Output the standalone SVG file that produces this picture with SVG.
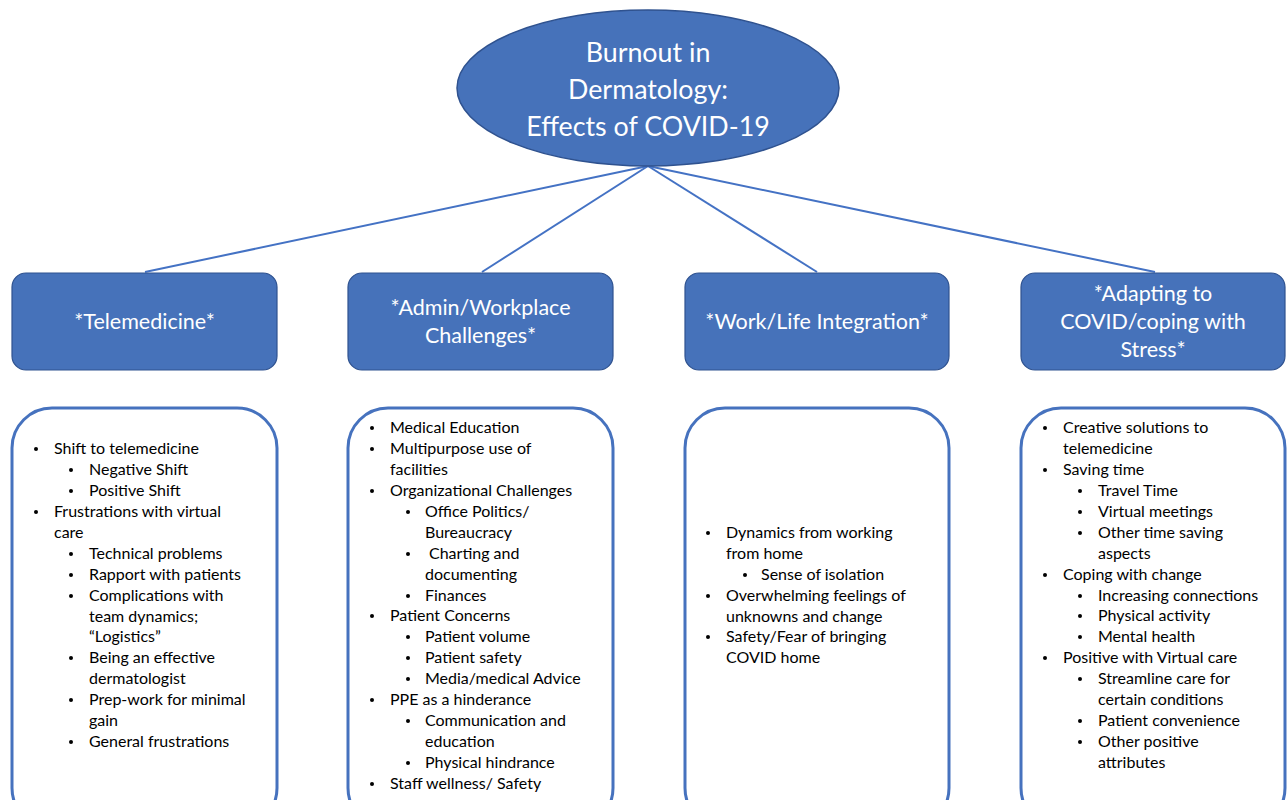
<svg xmlns="http://www.w3.org/2000/svg" width="1287" height="800" viewBox="0 0 1287 800">
  <defs>
    <style>
      .hub { fill: #4672BA; stroke: #2F528F; stroke-width: 1.5; }
      .head { fill: #4672BA; stroke: #2F528F; stroke-width: 1.2; }
      .list { fill: #FFFFFF; stroke: #4672BE; stroke-width: 3; }
      .wire { stroke: #4472C4; stroke-width: 2; fill: none; }
      .hubtxt { font-family: Lato, "Liberation Sans", sans-serif; font-size: 26.8px; fill: #FFFFFF; text-anchor: middle; }
      .headtxt { font-family: Lato, "Liberation Sans", sans-serif; font-size: 21.5px; fill: #FFFFFF; text-anchor: middle; }
      .item { font-family: Lato, "Liberation Sans", sans-serif; font-size: 16px; fill: #000000; }
      .dot { fill: #000000; }
    </style>
  </defs>

  <rect x="0" y="0" width="1287" height="800" fill="#FFFFFF"/>

  <!-- connectors from the hub to each theme -->
  <g id="connectors">
    <line class="wire" x1="648" y1="166" x2="145" y2="272"/>
    <line class="wire" x1="648" y1="166" x2="482" y2="272"/>
    <line class="wire" x1="648" y1="166" x2="817" y2="272"/>
    <line class="wire" x1="648" y1="166" x2="1155" y2="272"/>
  </g>

  <!-- central topic -->
  <g id="hub">
    <ellipse class="hub" cx="648" cy="88" rx="191" ry="78"/>
    <text class="hubtxt" x="648" y="62">Burnout in</text>
    <text class="hubtxt" x="648" y="99">Dermatology:</text>
    <text class="hubtxt" x="648" y="136">Effects of COVID-19</text>
  </g>

  <!-- theme headers -->
  <g id="head-telemedicine">
    <rect class="head" x="12" y="273" width="265" height="97" rx="14"/>
    <text class="headtxt" x="144.5" y="329">*Telemedicine*</text>
  </g>
  <g id="head-admin">
    <rect class="head" x="348" y="273" width="265" height="97" rx="14"/>
    <text class="headtxt" x="480.5" y="315">*Admin/Workplace</text>
    <text class="headtxt" x="480.5" y="343">Challenges*</text>
  </g>
  <g id="head-worklife">
    <rect class="head" x="685" y="273" width="264" height="97" rx="14"/>
    <text class="headtxt" x="817" y="329">*Work/Life Integration*</text>
  </g>
  <g id="head-adapting">
    <rect class="head" x="1021" y="273" width="264" height="97" rx="14"/>
    <text class="headtxt" x="1153" y="301">*Adapting to</text>
    <text class="headtxt" x="1153" y="329">COVID/coping with</text>
    <text class="headtxt" x="1153" y="357">Stress*</text>
  </g>

  <!-- detail lists -->
  <g id="list-telemedicine">
    <rect class="list" x="12" y="408" width="265" height="420" rx="40"/>
    <circle class="dot" cx="36" cy="449" r="2"/><text class="item" x="54" y="454">Shift to telemedicine</text>
    <circle class="dot" cx="71" cy="470" r="2"/><text class="item" x="89" y="475">Negative Shift</text>
    <circle class="dot" cx="71" cy="491" r="2"/><text class="item" x="89" y="496">Positive Shift</text>
    <circle class="dot" cx="36" cy="512" r="2"/><text class="item" x="54" y="517">Frustrations with virtual</text>
    <text class="item" x="54" y="538">care</text>
    <circle class="dot" cx="71" cy="554" r="2"/><text class="item" x="89" y="559">Technical problems</text>
    <circle class="dot" cx="71" cy="575" r="2"/><text class="item" x="89" y="580">Rapport with patients</text>
    <circle class="dot" cx="71" cy="596" r="2"/><text class="item" x="89" y="601">Complications with</text>
    <text class="item" x="89" y="622">team dynamics;</text>
    <text class="item" x="89" y="642">“Logistics”</text>
    <circle class="dot" cx="71" cy="658" r="2"/><text class="item" x="89" y="663">Being an effective</text>
    <text class="item" x="89" y="684">dermatologist</text>
    <circle class="dot" cx="71" cy="700" r="2"/><text class="item" x="89" y="705">Prep-work for minimal</text>
    <text class="item" x="89" y="726">gain</text>
    <circle class="dot" cx="71" cy="742" r="2"/><text class="item" x="89" y="747">General frustrations</text>
  </g>

  <g id="list-admin">
    <rect class="list" x="348" y="408" width="265" height="420" rx="40"/>
    <circle class="dot" cx="372" cy="428" r="2"/><text class="item" x="390" y="433">Medical Education</text>
    <circle class="dot" cx="372" cy="449" r="2"/><text class="item" x="390" y="454">Multipurpose use of</text>
    <text class="item" x="390" y="475">facilities</text>
    <circle class="dot" cx="372" cy="491" r="2"/><text class="item" x="390" y="496">Organizational Challenges</text>
    <circle class="dot" cx="408" cy="512" r="2"/><text class="item" x="425" y="517">Office Politics/</text>
    <text class="item" x="425" y="538">Bureaucracy</text>
    <circle class="dot" cx="408" cy="554" r="2"/><text class="item" x="429" y="559">Charting and</text>
    <text class="item" x="425" y="580">documenting</text>
    <circle class="dot" cx="408" cy="596" r="2"/><text class="item" x="425" y="601">Finances</text>
    <circle class="dot" cx="372" cy="616" r="2"/><text class="item" x="390" y="621">Patient Concerns</text>
    <circle class="dot" cx="408" cy="637" r="2"/><text class="item" x="425" y="642">Patient volume</text>
    <circle class="dot" cx="408" cy="658" r="2"/><text class="item" x="425" y="663">Patient safety</text>
    <circle class="dot" cx="408" cy="679" r="2"/><text class="item" x="425" y="684">Media/medical Advice</text>
    <circle class="dot" cx="372" cy="700" r="2"/><text class="item" x="390" y="705">PPE as a hinderance</text>
    <circle class="dot" cx="408" cy="721" r="2"/><text class="item" x="425" y="726">Communication and</text>
    <text class="item" x="425" y="747">education</text>
    <circle class="dot" cx="408" cy="763" r="2"/><text class="item" x="425" y="768">Physical hindrance</text>
    <circle class="dot" cx="372" cy="784" r="2"/><text class="item" x="390" y="789">Staff wellness/ Safety</text>
  </g>

  <g id="list-worklife">
    <rect class="list" x="685" y="408" width="264" height="420" rx="40"/>
    <circle class="dot" cx="708" cy="533" r="2"/><text class="item" x="726" y="538">Dynamics from working</text>
    <text class="item" x="726" y="559">from home</text>
    <circle class="dot" cx="745" cy="575" r="2"/><text class="item" x="761" y="580">Sense of isolation</text>
    <circle class="dot" cx="708" cy="596" r="2"/><text class="item" x="726" y="601">Overwhelming feelings of</text>
    <text class="item" x="726" y="622">unknowns and change</text>
    <circle class="dot" cx="708" cy="637" r="2"/><text class="item" x="726" y="642">Safety/Fear of bringing</text>
    <text class="item" x="726" y="663">COVID home</text>
  </g>

  <g id="list-adapting">
    <rect class="list" x="1021" y="408" width="264" height="420" rx="40"/>
    <circle class="dot" cx="1045" cy="428" r="2"/><text class="item" x="1063" y="433">Creative solutions to</text>
    <text class="item" x="1063" y="454">telemedicine</text>
    <circle class="dot" cx="1045" cy="470" r="2"/><text class="item" x="1063" y="475">Saving time</text>
    <circle class="dot" cx="1080" cy="491" r="2"/><text class="item" x="1098" y="496">Travel Time</text>
    <circle class="dot" cx="1080" cy="512" r="2"/><text class="item" x="1098" y="517">Virtual meetings</text>
    <circle class="dot" cx="1080" cy="533" r="2"/><text class="item" x="1098" y="538">Other time saving</text>
    <text class="item" x="1098" y="559">aspects</text>
    <circle class="dot" cx="1045" cy="575" r="2"/><text class="item" x="1063" y="580">Coping with change</text>
    <circle class="dot" cx="1080" cy="596" r="2"/><text class="item" x="1098" y="601">Increasing connections</text>
    <circle class="dot" cx="1080" cy="616" r="2"/><text class="item" x="1098" y="621">Physical activity</text>
    <circle class="dot" cx="1080" cy="637" r="2"/><text class="item" x="1098" y="642">Mental health</text>
    <circle class="dot" cx="1045" cy="658" r="2"/><text class="item" x="1063" y="663">Positive with Virtual care</text>
    <circle class="dot" cx="1080" cy="679" r="2"/><text class="item" x="1098" y="684">Streamline care for</text>
    <text class="item" x="1098" y="705">certain conditions</text>
    <circle class="dot" cx="1080" cy="721" r="2"/><text class="item" x="1098" y="726">Patient convenience</text>
    <circle class="dot" cx="1080" cy="742" r="2"/><text class="item" x="1098" y="747">Other positive</text>
    <text class="item" x="1098" y="768">attributes</text>
  </g>
</svg>
